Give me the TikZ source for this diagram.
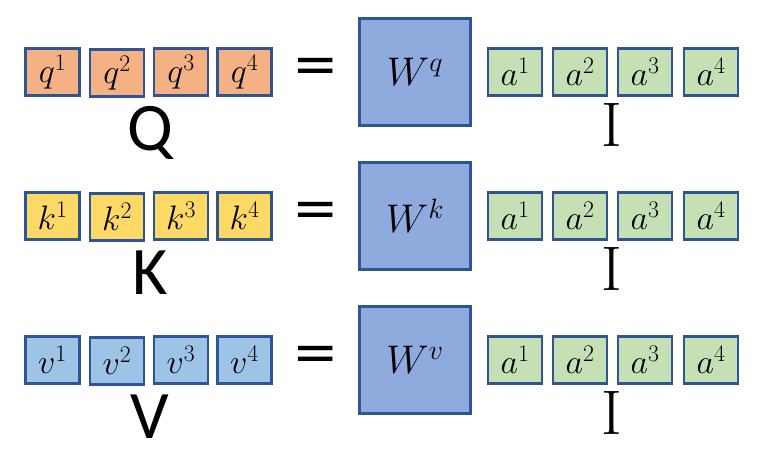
\RequirePackage{fix-cm}
\documentclass[tikz,border=0pt]{standalone}
\usepackage{fontspec}
\setsansfont{Carlito}
\begin{document}
\begin{tikzpicture}[x=1pt,y=-1pt,
  cell/.style={draw=bordc,line width=2.8pt,minimum width=54pt,minimum height=47pt,inner sep=0pt,font=\fontsize{34}{40}\selectfont},
  wbox/.style={draw=bordc,line width=2.8pt,fill=wfill,minimum width=111pt,minimum height=107pt,inner sep=0pt,font=\fontsize{40}{46}\selectfont},
  biglab/.style={font=\sffamily\fontsize{68}{80}\selectfont,inner sep=0pt,anchor=base},
  ilab/.style={font=\fontsize{63}{72}\selectfont,inner sep=0pt,anchor=base},
  eqlab/.style={font=\sffamily\fontsize{68}{80}\selectfont,inner sep=0pt,xscale=1.25}]
\definecolor{bordc}{HTML}{2F5597}
\definecolor{qfill}{HTML}{F4B183}
\definecolor{kfill}{HTML}{FFD966}
\definecolor{vfill}{HTML}{9DC3E6}
\definecolor{afill}{HTML}{C5E0B4}
\definecolor{wfill}{HTML}{8FAADC}
\useasboundingbox (0,0) rectangle (765,455);
\foreach \lt/\cap/\fc [count=\r from 0] in {q/Q/qfill,k/K/kfill,v/V/vfill}{
  \pgfmathsetmacro\yy{144*\r}
  \node[cell,fill=\fc] (\lt1) at (52.5,72+\yy) {$\lt^1$};
  \node[cell,fill=\fc] (\lt2) at (117,73+\yy) {$\lt^2$};
  \node[cell,fill=\fc] (\lt3) at (181,72+\yy) {$\lt^3$};
  \node[cell,fill=\fc] (\lt4) at (244.5,72+\yy) {$\lt^4$};
  \node[biglab] (lab\lt) at (150,150+\yy) {\cap};
  \node[eqlab] (eq\lt) at (316,73+\yy) {=};
  \node[wbox] (W\lt) at (415,72+\yy) {$W^{\lt}$};
  \node[cell,fill=afill] (a\lt1) at (515,72+\yy) {$a^1$};
  \node[cell,fill=afill] (a\lt2) at (580,72+\yy) {$a^2$};
  \node[cell,fill=afill] (a\lt3) at (645,72+\yy) {$a^3$};
  \node[cell,fill=afill] (a\lt4) at (711,72+\yy) {$a^4$};
  \node[ilab] (I\lt) at (612,146+\yy) {I};
}
\end{tikzpicture}
\end{document}
